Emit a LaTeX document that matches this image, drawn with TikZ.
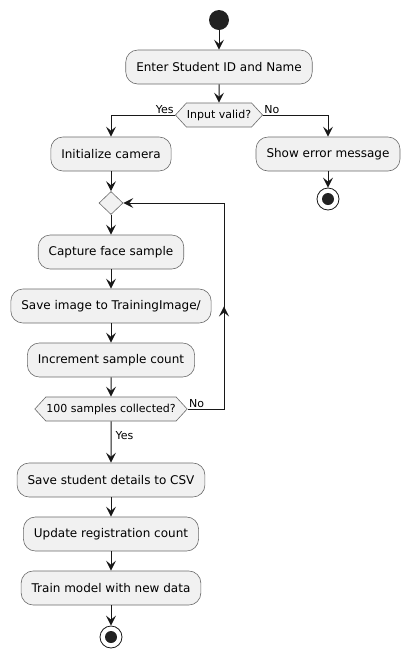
\documentclass[tikz,border=0pt]{standalone}
\usepackage{fontspec}
\setmainfont{DejaVu Sans}
\usetikzlibrary{shapes.geometric,shapes.symbols,arrows.meta,decorations.markings}
\definecolor{boxfill}{HTML}{F1F1F1}
\definecolor{linec}{HTML}{181818}
\definecolor{borderc}{HTML}{6A6A6A}
\definecolor{dotc}{HTML}{222222}
\tikzset{
  act/.style={draw=borderc, line width=0.6pt, fill=boxfill, rounded corners=12pt,
    minimum height=34pt, inner xsep=10.5pt, font=\fontsize{12}{14}\selectfont, text=black},
  dec/.style={signal, signal to=west and east, signal pointer angle=95, draw=borderc,
    line width=0.6pt, fill=boxfill, minimum height=24pt, inner xsep=0.5pt, inner ysep=0pt,
    font=\fontsize{11}{13}\selectfont, text=black},
  merge/.style={diamond, draw=borderc, line width=0.6pt, fill=boxfill, minimum width=24pt,
    minimum height=23pt, inner sep=0pt},
  startc/.style={circle, fill=dotc, minimum size=20pt, inner sep=0pt},
  endc/.style={circle, draw=linec, line width=0.8pt, minimum size=22pt, inner sep=0pt,
    path picture={\fill[dotc] (path picture bounding box.center) circle (6pt);}},
  arr/.style={draw=linec, line width=1pt, -{Stealth[length=10pt, width=10pt, inset=4pt]}},
  lbl/.style={font=\fontsize{11}{13}\selectfont, text=black, inner sep=1pt},
  uparrow/.style={decoration={markings, mark=at position 139pt with {\arrow[linec]{Stealth[length=10pt, width=10pt, inset=4pt]}}}, postaction={decorate}}
}
\begin{document}
\begin{tikzpicture}[x=1pt,y=-1pt]
\useasboundingbox (0,0) rectangle (409,657);
\node[startc] (start) at (219,20) {};
\node[act] (enter) at (219,67) {Enter Student ID and Name};
\node[dec] (valid) at (219,115) {Input valid?};
\node[act] (init) at (111,154) {Initialize camera};
\node[act] (err) at (328,154) {Show error message};
\node[endc] (end1) at (328,199) {};
\node[merge] (loop) at (111,203) {};
\node[act] (cap) at (111,252) {Capture face sample};
\node[act] (save) at (111,306) {Save image to TrainingImage/};
\node[act] (inc) at (111,360) {Increment sample count};
\node[dec] (hund) at (111,409) {100 samples collected?};
\node[act] (csv) at (111,480) {Save student details to CSV};
\node[act] (upd) at (111,534) {Update registration count};
\node[act] (train) at (111,588) {Train model with new data};
\node[endc] (end2) at (111,637) {};
\coordinate (back) at (224,203);

\draw[arr] (start) -- (enter);
\draw[arr] (enter) -- (valid);
\draw[arr] (valid.west) -| node[lbl, pos=0.0, anchor=south east] {Yes} (init.north);
\draw[arr] (valid.east) -| node[lbl, pos=0.0, anchor=south west] {No} (err.north);
\draw[arr] (err) -- (end1);
\draw[arr] (init) -- (loop);
\draw[arr] (loop) -- (cap);
\draw[arr] (cap) -- (save);
\draw[arr] (save) -- (inc);
\draw[arr] (inc) -- (hund);
\draw[arr] (hund) -- node[lbl, pos=0.35, anchor=west, xshift=3pt] {Yes} (csv);
\draw[arr, uparrow] (hund.east) -| node[lbl, pos=0.0, anchor=south west] {No} (back) -- (loop.east);
\draw[arr] (csv) -- (upd);
\draw[arr] (upd) -- (train);
\draw[arr] (train) -- (end2);
\end{tikzpicture}
\end{document}
